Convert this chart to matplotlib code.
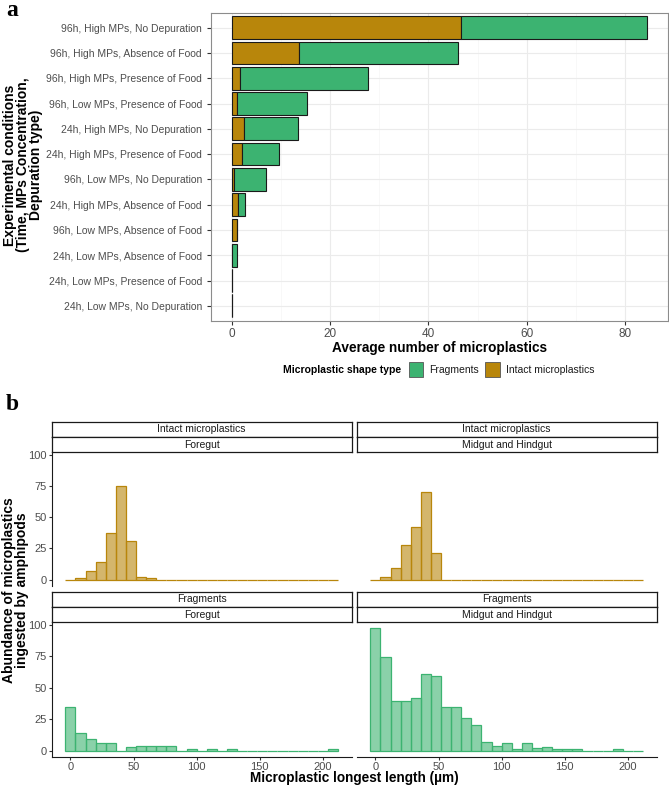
import numpy as np
import matplotlib
matplotlib.use("Agg")
import matplotlib.pyplot as plt
from matplotlib.patches import Rectangle

plt.rcParams['font.family'] = ['Liberation Sans', 'DejaVu Sans']

# ---- panel a data (top to bottom) ----
condicoes = ["96h, High MPs, No Depuration", "96h, High MPs, Absence of Food",
             "96h, High MPs, Presence of Food", "96h, Low MPs, Presence of Food",
             "24h, High MPs, No Depuration", "24h, High MPs, Presence of Food",
             "96h, Low MPs, No Depuration", "24h, High MPs, Absence of Food",
             "96h, Low MPs, Absence of Food", "24h, Low MPs, Absence of Food",
             "24h, Low MPs, Presence of Food", "24h, Low MPs, No Depuration"]
intactos = [46.6, 13.7, 1.7, 1.0, 2.5, 2.0, 0.5, 1.3, 1.0, 0.0, 0.0, 0.0]
fragmentos = [37.8, 32.4, 26.0, 14.3, 11.0, 7.6, 6.5, 1.35, 0.0, 1.0, 0.0, 0.0]

# ---- panel b data: histogram counts, bins of width 8 starting at -4 ----
bin_inicio = -4
bin_largura = 8
hist_intact_fore = [0, 1, 7, 14, 37, 75, 31, 2, 1] + [0] * 18
hist_intact_mid = [0, 2, 9, 28, 42, 70, 21] + [0] * 20
hist_frag_fore = [35, 14, 9, 6, 6, 0, 3, 4, 4, 4, 4, 0, 1, 0, 1, 0, 1,
                  0, 0, 0, 0, 0, 0, 0, 0, 0, 1]
hist_frag_mid = [97, 74, 39, 39, 42, 61, 59, 35, 35, 26, 20, 7, 4, 6, 1, 6, 2,
                 3, 1, 1, 1, 0, 0, 0, 1, 0, 0]

verde = "#3CB371"
dourado = "#B8860B"
W, H = 669, 786

fig = plt.figure(figsize=(W / 100, H / 100), dpi=100)

def caixa(x0, y0, x1, y1):
    # caixa em pixels (origem no topo) -> fração da figura
    return [x0 / W, 1 - y1 / H, (x1 - x0) / W, (y1 - y0) / H]

# ================= painel a =================
ax = fig.add_axes(caixa(211, 12.5, 668, 321))
y = np.arange(len(condicoes))
ax.barh(y, intactos, height=0.9, color=dourado, edgecolor="#1a1a1a", linewidth=0.8, zorder=3)
ax.barh(y, fragmentos, left=intactos, height=0.9, color=verde, edgecolor="#1a1a1a",
        linewidth=0.8, zorder=3)
ax.set_ylim(len(condicoes) - 0.4, -0.6)
ax.set_xlim(-4.22, 88.7)
ax.set_yticks(y)
ax.set_yticklabels(condicoes, fontsize=7.5, color="#4D4D4D")
ax.set_xticks([0, 20, 40, 60, 80])
ax.set_xticks([10, 30, 50, 70], minor=True)
ax.tick_params(axis="x", labelsize=8.5, labelcolor="#4D4D4D", color="#333333", length=3, pad=2)
ax.tick_params(axis="y", color="#333333", length=3)
ax.tick_params(axis="x", which="minor", length=0)
ax.grid(True, which="major", color="#EBEBEB", linewidth=0.8, zorder=0)
ax.grid(True, which="minor", axis="x", color="#F5F5F5", linewidth=0.5, zorder=0)
ax.set_axisbelow(True)
for s in ax.spines.values():
    s.set_color("#8c8c8c")
    s.set_linewidth(0.8)
ax.set_xlabel("Average number of microplastics", fontsize=9.8, fontweight="bold", labelpad=1)
fig.text(23 / W, 1 - 165 / H, "Experimental conditions\n(Time, MPs Concentration,\nDepuration type)",
         rotation=90, ha="center", va="center", fontsize=10, fontweight="bold",
         linespacing=0.95)

# legenda montada à mão
fig.text(283 / W, 1 - 369.5 / H, "Microplastic shape type", fontsize=7.5, fontweight="bold",
         ha="left", va="center")
for x_chave, cor, rotulo in [(408.7, verde, "Fragments"), (485, dourado, "Intact microplastics")]:
    fig.patches.append(Rectangle((x_chave / W, 1 - 376.7 / H), 14.6 / W, 14.6 / H,
                                 transform=fig.transFigure, facecolor=cor,
                                 edgecolor="#555555", linewidth=0.6))
    fig.text((x_chave + 20.5) / W, 1 - 369.5 / H, rotulo, fontsize=7.5, ha="left", va="center",
             color="#1a1a1a")

fig.text(6 / W, 1 - 10 / H, "a", fontsize=17, fontweight="bold", family="Liberation Serif",
         ha="left", va="center")
fig.text(6 / W, 1 - 405 / H, "b", fontsize=17, fontweight="bold", family="Liberation Serif",
         ha="left", va="center")

# ================= painel b =================
bordas = bin_inicio + bin_largura * np.arange(28)
paineis = [
    (hist_intact_fore, dourado, "Intact microplastics", "Foregut", 51.7, 351.7, 421.7, 585.7, True, False),
    (hist_intact_mid, dourado, "Intact microplastics", "Midgut and Hindgut", 356.7, 656.7, 421.7, 585.7, False, False),
    (hist_frag_fore, verde, "Fragments", "Foregut", 51.7, 351.7, 591.7, 756.7, True, True),
    (hist_frag_mid, verde, "Fragments", "Midgut and Hindgut", 356.7, 656.7, 591.7, 756.7, False, True),
]
for contagens, cor, tira1, tira2, x0, x1, ytop, ybot, eixo_y, eixo_x in paineis:
    axh = fig.add_axes(caixa(x0, ytop + 30.6, x1, ybot))
    axh.bar(bordas[:-1], contagens, width=bin_largura, align="edge", color=cor, alpha=0.6,
            edgecolor="none", zorder=2)
    axh.bar(bordas[:-1], contagens, width=bin_largura, align="edge", facecolor="none",
            edgecolor=cor, linewidth=0.9, zorder=3)
    axh.set_xlim(-14.8, 222.8)
    axh.set_ylim(-4.85, 101.85)
    for s in ["top", "right"]:
        axh.spines[s].set_visible(False)
    axh.spines["left"].set_visible(eixo_y)
    axh.spines["bottom"].set_visible(eixo_x)
    for s in ["left", "bottom"]:
        axh.spines[s].set_color("#1a1a1a")
        axh.spines[s].set_linewidth(0.8)
    axh.set_yticks([0, 25, 50, 75, 100])
    axh.set_xticks([0, 50, 100, 150, 200])
    axh.tick_params(labelsize=8, labelcolor="#4D4D4D", color="#333333", length=2.5, pad=1)
    if not eixo_y:
        axh.tick_params(axis="y", left=False, labelleft=False)
    if not eixo_x:
        axh.tick_params(axis="x", bottom=False, labelbottom=False)
    # faixas dos facets
    for i, texto in enumerate([tira1, tira2]):
        sa = fig.add_axes(caixa(x0, ytop + 15.3 * i, x1, ytop + 15.3 * (i + 1)))
        sa.set_xticks([])
        sa.set_yticks([])
        sa.set_facecolor("white")
        for s in sa.spines.values():
            s.set_color("#1a1a1a")
            s.set_linewidth(0.9)
        sa.text(0.5, 0.5, texto, ha="center", va="center", fontsize=7.5, color="#1a1a1a",
                transform=sa.transAxes)

fig.text(15.5 / W, 1 - 590 / H, "Abundance of microplastics\ningested by amphipods",
         rotation=90, ha="center", va="center", fontsize=10, fontweight="bold",
         linespacing=0.95)
fig.text(354 / W, 1 - 785 / H, "Microplastic longest length (µm)", ha="center", va="bottom",
         fontsize=9.8, fontweight="bold")

fig.savefig("out.png", dpi=100)
